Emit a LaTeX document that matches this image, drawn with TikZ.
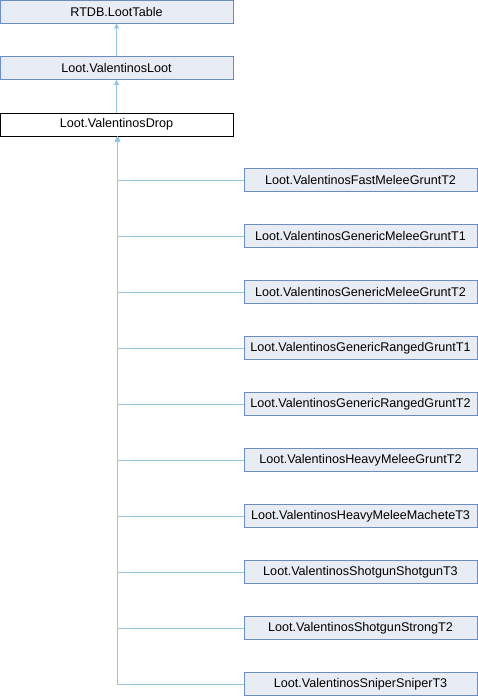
\documentclass[tikz,border=0pt]{standalone}
\usepackage{fontspec}
\setmainfont{Liberation Sans}
\usetikzlibrary{arrows.meta}
\definecolor{boxfill}{RGB}{232,236,245}
\definecolor{boxline}{RGB}{108,140,196}
\definecolor{edgeblue}{RGB}{150,198,230}
\tikzset{
  cls/.style={draw=boxline, fill=boxfill, line width=0.9pt, minimum height=23pt, inner sep=0pt, font=\fontsize{12.6}{15}\selectfont},
  topcls/.style={cls, minimum width=233pt},
  subcls/.style={cls, minimum width=233pt},
  cur/.style={cls, draw=black, fill=white},
  inh/.style={draw=edgeblue, line width=0.9pt, -{Triangle[length=5pt,width=5pt,fill=edgeblue]}},
}
\begin{document}
\begin{tikzpicture}[x=1pt,y=-1pt]
\useasboundingbox (0,0) rectangle (478,696);
\node[topcls] (rtdb) at (116.5,11.5) {RTDB.LootTable};
\node[topcls] (loot) at (116.5,68) {Loot.ValentinosLoot};
\node[topcls,cur] (drop) at (116.5,124.5) {Loot.ValentinosDrop};
\node[subcls] (c1) at (360.5,180) {Loot.ValentinosFastMeleeGruntT2};
\node[subcls] (c2) at (360.5,236) {Loot.ValentinosGenericMeleeGruntT1};
\node[subcls] (c3) at (360.5,292) {Loot.ValentinosGenericMeleeGruntT2};
\node[subcls] (c4) at (360.5,348) {Loot.ValentinosGenericRangedGruntT1};
\node[subcls] (c5) at (360.5,404) {Loot.ValentinosGenericRangedGruntT2};
\node[subcls] (c6) at (360.5,460) {Loot.ValentinosHeavyMeleeGruntT2};
\node[subcls] (c7) at (360.5,516) {Loot.ValentinosHeavyMeleeMacheteT3};
\node[subcls] (c8) at (360.5,572) {Loot.ValentinosShotgunShotgunT3};
\node[subcls] (c9) at (360.5,628) {Loot.ValentinosShotgunStrongT2};
\node[subcls] (c10) at (360.5,684) {Loot.ValentinosSniperSniperT3};
\draw[inh] (loot.north) -- (rtdb.south);
\draw[inh] (drop.north) -- (loot.south);
\foreach \c in {c1,c2,c3,c4,c5,c6,c7,c8,c9,c10}
  \draw[inh] (\c.west) -| ([xshift=1pt]drop.south);
\end{tikzpicture}
\end{document}
